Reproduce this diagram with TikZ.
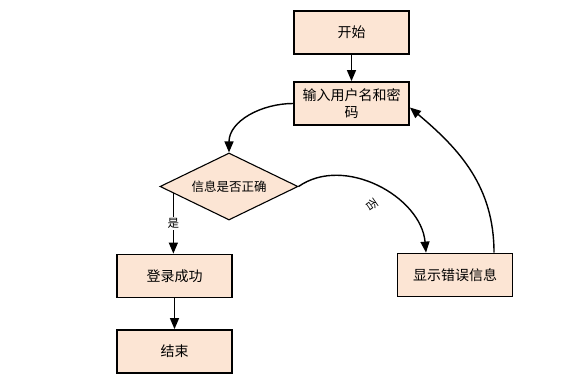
\documentclass[tikz,border=0pt]{standalone}
\usepackage{fontspec}
\setmainfont{Noto Sans CJK SC}
\usetikzlibrary{shapes.geometric,arrows.meta,calc}
\definecolor{boxfill}{HTML}{FCE5D4}
\tikzset{
  procbox/.style={draw=black, line width=1.8pt, fill=boxfill, minimum width=115pt, minimum height=43pt, inner sep=1pt, align=center, font=\fontsize{14pt}{17pt}\selectfont},
  decbox/.style={draw=black, line width=1.1pt, fill=boxfill, shape=diamond, aspect=2.06, minimum width=138pt, minimum height=67pt, inner sep=0pt, font=\fontsize{12.5pt}{14pt}\selectfont},
  flow/.style={line width=1.4pt, -{Triangle[length=11pt,width=9pt]}},
  lbl/.style={font=\fontsize{11.5pt}{13pt}\selectfont, inner sep=1pt}
}
\begin{document}
\begin{tikzpicture}[x=1pt,y=-1pt]
\useasboundingbox (0,0) rectangle (585,387);
\node[procbox] (start) at (351.5,32.5) {开始};
\node[procbox] (input) at (351.5,103.5) {输入用户名和密\\码};
\node[decbox] (check) at (229,186.5) {信息是否正确};
\node[procbox] (ok) at (174.5,276) {登录成功};
\node[procbox] (fin) at (174.5,351.5) {结束};
\node[procbox] (err) at (455,275) {显示错误信息};
\coordinate (cyes) at ($(check.west)!0.2!(check.south)$);
\coordinate (erra) at ([xshift=-29pt]err.north);
\coordinate (errb) at ([xshift=39pt]err.north);
\draw[flow] (start) -- (input);
\draw[flow] (input.west) to[out=180,in=90] (check.north);
\draw[flow] (cyes) -- node[lbl, fill=white] (yes) {是} (cyes |- ok.north);
\draw[flow] (ok) -- (fin);
\draw[flow] (check.east) to[out=35,in=95] (erra);
\draw[flow] (errb) to[out=90,in=-40] ([yshift=-4pt]input.east);
\node[lbl, rotate=-55] (no) at (372,205) {否};
\end{tikzpicture}
\end{document}
